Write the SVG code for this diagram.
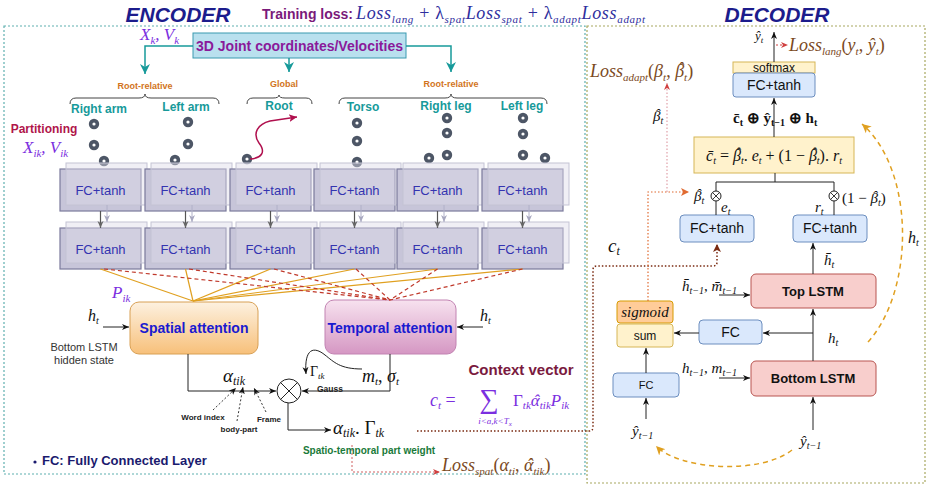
<svg xmlns="http://www.w3.org/2000/svg" width="940" height="486" viewBox="0 0 940 486">
<defs>
<style>
.sans{font-family:"Liberation Sans",Arial,sans-serif}
.b{font-weight:bold}
.m{font-family:"Liberation Serif","Times New Roman",serif;font-style:italic}
.mu{font-family:"Liberation Serif","Times New Roman",serif}
.fcf{fill:#c7c5d9;stroke:#7b7a9c;stroke-width:1.2}
.fck{fill:#dddce8;fill-opacity:0.45;stroke:#c4c3d4;stroke-width:1}
.fct{font-family:"Liberation Sans",Arial,sans-serif;font-size:13px;fill:#3434b0;text-anchor:middle}
.teal{fill:#179a9a;font-weight:bold;font-size:12px;text-anchor:middle}
.rr{fill:#d2741c;font-weight:bold;font-size:9px;text-anchor:middle}
.brace{fill:none;stroke:#444;stroke-width:1}
.ln{fill:none;stroke:#222;stroke-width:1}
.gl{fill:none;stroke:#555;stroke-width:1.2}
.org{stroke:#e0a020;stroke-width:1.2;fill:none}
.red{stroke:#c0392b;stroke-width:1.2;stroke-dasharray:4 3;fill:none}
.dblue{fill:#dae8fc;stroke:#6c8ebf;stroke-width:1}
.yel{fill:#fff2cc;stroke:#d6b656;stroke-width:1}
.pinkb{fill:#f8cecc;stroke:#b85450;stroke-width:1}
.dt{font-family:"Liberation Sans",Arial,sans-serif;font-size:14px;fill:#111;text-anchor:middle}
.brn{fill:#7b4a1e}
</style>
<linearGradient id="gSp" x1="0" y1="0" x2="0" y2="1"><stop offset="0" stop-color="#fdf1e0"/><stop offset="1" stop-color="#f7c07a"/></linearGradient>
<linearGradient id="gTp" x1="0" y1="0" x2="0" y2="1"><stop offset="0" stop-color="#f7e2ef"/><stop offset="1" stop-color="#d597c3"/></linearGradient>
<marker id="aK" markerWidth="8" markerHeight="8" refX="7" refY="4" orient="auto" markerUnits="userSpaceOnUse"><path d="M0,1 L7,4 L0,7 L2,4z" fill="#111"/></marker>
<marker id="aG" markerWidth="8" markerHeight="8" refX="7" refY="4" orient="auto" markerUnits="userSpaceOnUse"><path d="M0,1 L7,4 L0,7 L2,4z" fill="#666"/></marker>
<marker id="aL" markerWidth="8" markerHeight="8" refX="7" refY="4" orient="auto" markerUnits="userSpaceOnUse"><path d="M0,1 L7,4 L0,7 L2,4z" fill="#a8a8c0"/></marker>
<marker id="aT" markerWidth="12" markerHeight="12" refX="10" refY="6" orient="auto" markerUnits="userSpaceOnUse"><path d="M0,1 L10,6 L0,11 L3,6z" fill="#179a9a"/></marker>
<marker id="aR" markerWidth="10" markerHeight="10" refX="8" refY="5" orient="auto" markerUnits="userSpaceOnUse"><path d="M0,1 L8,5 L0,9 L2,5z" fill="#b0104e"/></marker>
<marker id="aP" markerWidth="8" markerHeight="8" refX="7" refY="4" orient="auto" markerUnits="userSpaceOnUse"><path d="M0,1 L7,4 L0,7 L2,4z" fill="#d04040"/></marker>
<marker id="aO" markerWidth="9" markerHeight="9" refX="8" refY="4.5" orient="auto" markerUnits="userSpaceOnUse"><path d="M0,0.5 L8,4.5 L0,8.5 L2,4.5z" fill="#e06a30"/></marker>
<marker id="aBr" markerWidth="9" markerHeight="9" refX="8" refY="4.5" orient="auto" markerUnits="userSpaceOnUse"><path d="M0,0.5 L8,4.5 L0,8.5 L2,4.5z" fill="#7a2a10"/></marker>
<marker id="aY" markerWidth="10" markerHeight="10" refX="9" refY="5" orient="auto" markerUnits="userSpaceOnUse"><path d="M0,0.5 L9,5 L0,9.5 L2.5,5z" fill="#e0a020"/></marker>
<symbol id="dot" viewBox="-6 -6 12 12" width="12" height="12" overflow="visible"><circle r="5.2" fill="#4d5666"/><circle r="1.6" fill="#fff"/></symbol>
</defs>

<!-- frames -->
<g id="frames">
<rect x="4" y="26" width="581" height="448" fill="none" stroke="#5fb0b0" stroke-width="1.2" stroke-dasharray="2 2"/>
<rect x="587" y="26" width="338" height="457" fill="none" stroke="#a8a860" stroke-width="1.2" stroke-dasharray="2 2"/>
</g>

<!-- titles -->
<g id="titles">
<text x="178" y="22" class="sans b" font-style="italic" font-size="21" fill="#1c1c8c" text-anchor="middle">ENCODER</text>
<text x="777" y="22" class="sans b" font-style="italic" font-size="21" fill="#1c1c8c" text-anchor="middle">DECODER</text>
<text x="262" y="19" class="sans b" font-size="14" fill="#7a1a7a">Training loss:</text>
<text x="356" y="19" class="m" font-size="18" fill="#2e2e9e" textLength="289" lengthAdjust="spacing">Loss<tspan font-size="11" dy="4">lang</tspan><tspan dy="-4" font-style="normal"> + λ</tspan><tspan font-size="11" dy="4">spat</tspan><tspan dy="-4">Loss</tspan><tspan font-size="11" dy="4">spat</tspan><tspan dy="-4" font-style="normal"> + λ</tspan><tspan font-size="11" dy="4">adapt</tspan><tspan dy="-4">Loss</tspan><tspan font-size="11" dy="4">adapt</tspan></text>
</g>

<!-- input box -->
<g id="input">
<rect x="193" y="33" width="213" height="25" fill="#b9e0ee" stroke="#3a9ab0" stroke-width="1"/>
<text x="299.5" y="51" class="sans b" font-size="14" fill="#8a1a9a" text-anchor="middle">3D Joint coordinates/Velocities</text>
<text x="140" y="40" class="m" font-size="17" fill="#7b2fe0">X<tspan font-size="11" dy="4">k</tspan><tspan dy="-4">, V</tspan><tspan font-size="11" dy="4">k</tspan></text>
</g>

<!-- part labels -->
<g id="parts" class="sans">
<text x="145" y="89" class="rr">Root-relative</text>
<text x="284" y="87" class="rr">Global</text>
<text x="451" y="87" class="rr">Root-relative</text>
<path class="brace" d="M70,104 Q70,98 76,98 L139,98 Q145,98 145,94 Q145,98 151,98 L213,98 Q219,98 219,104"/>
<path class="brace" d="M247,104 Q247,98 253,98 L273,98 Q279,98 279,95 Q279,98 285,98 L306,98 Q312,98 312,104"/>
<path class="brace" d="M339,104 Q339,98 345,98 L445,98 Q451,98 451,94 Q451,98 457,98 L541,98 Q547,98 547,104"/>
<text x="99" y="113" class="teal">Right arm</text>
<text x="186" y="111" class="teal">Left arm</text>
<text x="279" y="110" class="teal">Root</text>
<text x="363" y="111" class="teal">Torso</text>
<text x="446" y="110" class="teal">Right leg</text>
<text x="522" y="110" class="teal">Left leg</text>
<text x="44" y="133" class="b" font-size="12" fill="#b0154a" text-anchor="middle">Partitioning</text>
<text x="23" y="153" class="m" font-size="17" fill="#7b2fe0">X<tspan font-size="11" dy="4">ik</tspan><tspan dy="-4">, V</tspan><tspan font-size="11" dy="4">ik</tspan></text>
</g>

<!-- joints -->
<g id="joints">
<use href="#dot" x="88" y="118"/><use href="#dot" x="88" y="139"/><use href="#dot" x="98" y="155"/>
<use href="#dot" x="182" y="116"/><use href="#dot" x="182" y="138"/><use href="#dot" x="169" y="154"/>
<use href="#dot" x="241" y="153"/>
<use href="#dot" x="351" y="117"/><use href="#dot" x="351" y="135"/><use href="#dot" x="351" y="156"/>
<use href="#dot" x="441" y="112"/><use href="#dot" x="441" y="127"/><use href="#dot" x="423" y="152"/><use href="#dot" x="441" y="149"/>
<use href="#dot" x="517" y="112"/><use href="#dot" x="517" y="128"/><use href="#dot" x="517" y="149"/><use href="#dot" x="539" y="152"/>
<path d="M250,159 C262,158 266,152 259,143 C252,133 258,124 270,121 C282,119 290,118 297,117" fill="none" stroke="#b0104e" stroke-width="1.5" marker-end="url(#aR)"/>
</g>

<!-- encoder FC layers -->
<g id="fc-row1">
<rect class="fcf" x="60" y="169" width="81" height="42"/><rect class="fck" x="66" y="163" width="81" height="42"/><text class="fct" x="100.5" y="195">FC+tanh</text>
<rect class="fcf" x="145" y="169" width="81" height="42"/><rect class="fck" x="151" y="163" width="81" height="42"/><text class="fct" x="185.5" y="195">FC+tanh</text>
<rect class="fcf" x="230" y="169" width="81" height="42"/><rect class="fck" x="236" y="163" width="81" height="42"/><text class="fct" x="270.5" y="195">FC+tanh</text>
<rect class="fcf" x="314" y="169" width="81" height="42"/><rect class="fck" x="320" y="163" width="81" height="42"/><text class="fct" x="354.5" y="195">FC+tanh</text>
<rect class="fcf" x="397" y="169" width="81" height="42"/><rect class="fck" x="403" y="163" width="81" height="42"/><text class="fct" x="437.5" y="195">FC+tanh</text>
<rect class="fcf" x="482" y="169" width="81" height="42"/><rect class="fck" x="488" y="163" width="81" height="42"/><text class="fct" x="522.5" y="195">FC+tanh</text>
</g>
<g id="fc-row2">
<rect class="fcf" x="60" y="228" width="81" height="41"/><rect class="fck" x="66" y="222" width="81" height="41"/><text class="fct" x="100.5" y="254">FC+tanh</text>
<rect class="fcf" x="145" y="228" width="81" height="41"/><rect class="fck" x="151" y="222" width="81" height="41"/><text class="fct" x="185.5" y="254">FC+tanh</text>
<rect class="fcf" x="230" y="228" width="81" height="41"/><rect class="fck" x="236" y="222" width="81" height="41"/><text class="fct" x="270.5" y="254">FC+tanh</text>
<rect class="fcf" x="314" y="228" width="81" height="41"/><rect class="fck" x="320" y="222" width="81" height="41"/><text class="fct" x="354.5" y="254">FC+tanh</text>
<rect class="fcf" x="397" y="228" width="81" height="41"/><rect class="fck" x="403" y="222" width="81" height="41"/><text class="fct" x="437.5" y="254">FC+tanh</text>
<rect class="fcf" x="482" y="228" width="81" height="41"/><rect class="fck" x="488" y="222" width="81" height="41"/><text class="fct" x="522.5" y="254">FC+tanh</text>
</g>

<!-- attention nodes -->
<g id="spatial">
<rect x="130" y="302" width="128" height="52" rx="9" fill="url(#gSp)" stroke="#d8a055" stroke-width="1"/>
<text x="194" y="333" class="sans b" font-size="14" fill="#1a1ad0" text-anchor="middle">Spatial attention</text>
</g>
<g id="temporal">
<rect x="325" y="300" width="131" height="54" rx="9" fill="url(#gTp)" stroke="#c283b2" stroke-width="1"/>
<text x="390" y="333" class="sans b" font-size="14" fill="#1a1ad0" text-anchor="middle">Temporal attention</text>
</g>
<g id="mult">
<circle cx="289" cy="391" r="12" fill="#fff" stroke="#222" stroke-width="1"/>
<path d="M280.5,382.5 L297.5,399.5 M297.5,382.5 L280.5,399.5" stroke="#222" stroke-width="1"/>
</g>

<!-- decoder nodes -->
<g id="softmax"><rect class="yel" x="733" y="62" width="82" height="11"/><text x="774" y="71.5" class="sans" font-size="12" fill="#111" text-anchor="middle">softmax</text></g>
<g id="fc-out"><rect class="dblue" x="733" y="73" width="82" height="24" rx="3"/><text x="774" y="90" class="dt">FC+tanh</text></g>
<g id="cbar"><rect class="yel" x="694" y="137" width="160" height="36"/>
<text x="774" y="161" class="m" font-size="16" fill="#111" text-anchor="middle">c̄<tspan font-size="10" dy="3">t</tspan><tspan dy="-3" font-style="normal"> = </tspan>β<tspan dx="-6" dy="-2">ˆ</tspan><tspan font-size="10" dx="0.6" dy="5">t</tspan><tspan dy="-3" font-style="normal">. </tspan>e<tspan font-size="10" dy="3">t</tspan><tspan dy="-3" font-style="normal"> + (1 − </tspan>β<tspan dx="-6" dy="-2">ˆ</tspan><tspan font-size="10" dx="0.6" dy="5">t</tspan><tspan dy="-3" font-style="normal">). </tspan>r<tspan font-size="10" dy="3">t</tspan></text></g>
<g id="fc-e"><rect class="dblue" x="680" y="215" width="74" height="27" rx="4"/><text x="717" y="233" class="dt">FC+tanh</text></g>
<g id="fc-r"><rect class="dblue" x="793" y="215" width="74" height="27" rx="4"/><text x="830" y="233" class="dt">FC+tanh</text></g>
<g id="toplstm"><rect class="pinkb" x="751" y="274" width="125" height="34" rx="5"/><text x="813" y="296" class="sans b" font-size="13" fill="#111" text-anchor="middle">Top LSTM</text></g>
<g id="fc-mid"><rect class="dblue" x="699" y="320" width="63" height="24" rx="4"/><text x="730.5" y="337" class="dt">FC</text></g>
<g id="sigmoid"><rect x="617" y="301" width="56" height="22" rx="3" fill="#ffcc99" stroke="#d79b00" stroke-width="1"/><text x="645" y="317" class="m" font-size="15" fill="#111" text-anchor="middle">sigmoid</text></g>
<g id="sum"><rect class="yel" x="617" y="324" width="56" height="23" rx="3"/><text x="645" y="340" class="sans" font-size="12" fill="#111" text-anchor="middle">sum</text></g>
<g id="fc-in"><rect class="dblue" x="613" y="373" width="66" height="24" rx="4"/><text x="646" y="389" class="sans" font-size="11" fill="#111" text-anchor="middle">FC</text></g>
<g id="botlstm"><rect class="pinkb" x="751" y="361" width="125" height="35" rx="5"/><text x="813" y="383" class="sans b" font-size="13" fill="#111" text-anchor="middle">Bottom LSTM</text></g>

<!-- connectors -->
<g id="connectors">
<path d="M193,46 H145 V74" fill="none" stroke="#179a9a" stroke-width="1.5" marker-end="url(#aT)"/>
<path d="M289,58 V72" fill="none" stroke="#179a9a" stroke-width="1.5" marker-end="url(#aT)"/>
<path d="M406,46 H451 V72" fill="none" stroke="#179a9a" stroke-width="1.5" marker-end="url(#aT)"/>
<g class="gl" marker-end="url(#aG)">
<path d="M100.5,211 V228"/><path d="M185.5,211 V228"/><path d="M270.5,211 V228"/><path d="M354.5,211 V228"/><path d="M437.5,211 V228"/><path d="M522.5,211 V228"/>
</g>
<g fill="none" stroke="#b0b0c8" stroke-width="1" marker-end="url(#aL)">
<path d="M107,205 V222"/><path d="M192,205 V222"/><path d="M277,205 V222"/><path d="M361,205 V222"/><path d="M444,205 V222"/><path d="M529,205 V222"/>
</g>
<g class="org">
<path d="M100.5,269 L193,301"/><path d="M185.5,269 L193,301"/><path d="M270.5,269 L193,301"/><path d="M354.5,269 L193,301"/><path d="M437.5,269 L193,301"/><path d="M522.5,269 L193,301"/>
</g>
<g class="red">
<path d="M104,269 L390,300"/><path d="M189,269 L390,300"/><path d="M274,269 L390,300"/><path d="M356,269 L390,300"/><path d="M437.5,269 L390,300"/><path d="M522.5,269 L390,300"/>
</g>
<path class="ln" d="M103,327 H129" marker-end="url(#aK)"/>
<path class="ln" d="M483,327 H457" marker-end="url(#aK)"/>
<path class="ln" d="M188,354 V391 H276" marker-end="url(#aK)"/>
<path class="ln" d="M390,354 V391 H302" marker-end="url(#aK)"/>
<path class="ln" d="M362,369 C340,369 334,362 325,355 C314,346 304,348 306,374" marker-end="url(#aK)"/>
<path class="ln" d="M288,403 V430 H331" marker-end="url(#aK)"/>
<g fill="none" stroke="#222" stroke-width="0.9" stroke-dasharray="2 2" marker-end="url(#aK)">
<path d="M213,410 L236,388"/><path d="M237,421 L243,387"/><path d="M266,412 L254,388"/>
</g>
<path d="M352,445 V472 H440" fill="none" stroke="#d06060" stroke-width="1" stroke-dasharray="2 2" marker-end="url(#aP)"/>
<path d="M417,431 H589 Q593,431 593,427 V270 Q593,266 597,266 H713 Q717,266 717,262 V244" fill="none" stroke="#7a2a10" stroke-width="1.5" stroke-dasharray="1.5 2" marker-end="url(#aBr)"/>
<path class="ln" d="M774,62 V32" marker-end="url(#aK)" stroke="#444"/>
<path d="M776,45 H788" fill="none" stroke="#d04040" stroke-width="1" stroke-dasharray="2 2" marker-end="url(#aP)"/>
<path class="ln" d="M774,137 V98" marker-end="url(#aK)" stroke="#555"/>
<path class="ln" d="M775,173 V182 M716,191 V182 H834 V191 M716,201 V215 M834,201 V215"/>
<circle cx="716" cy="196" r="5" fill="#fff" stroke="#222" stroke-width="1"/>
<path d="M712.5,192.5 L719.5,199.5 M719.5,192.5 L712.5,199.5" stroke="#222" stroke-width="0.9"/>
<circle cx="834" cy="196" r="5" fill="#fff" stroke="#222" stroke-width="1"/>
<path d="M830.5,192.5 L837.5,199.5 M837.5,192.5 L830.5,199.5" stroke="#222" stroke-width="0.9"/>
<path class="ln" d="M813,274 V243" marker-end="url(#aK)"/>
<path class="ln" d="M813,361 V309" marker-end="url(#aK)"/>
<path class="ln" d="M813,333 H763" marker-end="url(#aK)"/>
<path class="ln" d="M699,333 H674" marker-end="url(#aK)" stroke="#555"/>
<path class="ln" d="M646,373 V348" marker-end="url(#aK)"/>
<path class="ln" d="M646,419 V398" marker-end="url(#aK)"/>
<path class="ln" d="M813,430 V397" marker-end="url(#aK)"/>
<path class="ln" d="M719,295 H750" marker-end="url(#aK)"/>
<path class="ln" d="M719,378 H750" marker-end="url(#aK)"/>
<path d="M648,301 V192 H689" fill="none" stroke="#e06a30" stroke-width="1.2" stroke-dasharray="1.5 2" marker-end="url(#aO)"/>
<path d="M667,192 V83" fill="none" stroke="#e0a0a8" stroke-width="1.2" stroke-dasharray="1.5 2" marker-end="url(#aP)"/>
<path d="M868,342 C915,290 915,170 862,124" fill="none" stroke="#e0a020" stroke-width="1.5" stroke-dasharray="5 4" marker-end="url(#aY)"/>
<path d="M792,450 C760,475 680,470 656,446" fill="none" stroke="#e0a020" stroke-width="1.5" stroke-dasharray="5 4" marker-end="url(#aY)"/>
</g>

<!-- encoder labels -->
<g id="enc-labels">
<text x="112" y="298" class="m" font-size="17" fill="#7b2fe0">P<tspan font-size="11" dy="4">ik</tspan></text>
<text x="88" y="321" class="m" font-size="16" fill="#111">h<tspan font-size="10" dy="3">t</tspan></text>
<text x="480" y="321" class="m" font-size="16" fill="#111">h<tspan font-size="10" dy="3">t</tspan></text>
<text x="84" y="351" class="sans" font-size="11" fill="#333" text-anchor="middle">Bottom LSTM</text>
<text x="84" y="364" class="sans" font-size="11" fill="#333" text-anchor="middle">hidden state</text>
<text x="223" y="382" class="m" font-size="19" fill="#111">α<tspan font-size="12" dy="3">tik</tspan></text>
<text x="203" y="420" class="sans b" font-size="8" fill="#222" text-anchor="middle">Word index</text>
<text x="239" y="432" class="sans b" font-size="8" fill="#222" text-anchor="middle">body-part</text>
<text x="269" y="422" class="sans b" font-size="8" fill="#222" text-anchor="middle">Frame</text>
<text x="310" y="376" class="mu" font-size="14" fill="#111">Γ<tspan class="m" font-size="9" dy="3">tk</tspan></text>
<text x="330" y="392" class="sans b" font-size="8.5" fill="#222" text-anchor="middle">Gauss</text>
<text x="362" y="382" class="m" font-size="18" fill="#111">m<tspan font-size="11" dy="3">t</tspan><tspan dy="-3" font-style="normal">, </tspan>σ<tspan font-size="11" dy="3">t</tspan></text>
<text x="333" y="434" class="m" font-size="19" fill="#111">α<tspan font-size="12" dy="3">tik</tspan><tspan dy="-3" font-style="normal">. Γ</tspan><tspan font-size="12" dy="3">tk</tspan></text>
<text x="369" y="454" class="sans b" font-size="10" fill="#1a7a3a" text-anchor="middle">Spatio-temporal part weight</text>
<text x="442" y="471" class="m brn" font-size="18">Loss<tspan font-size="11" dy="4">spat</tspan><tspan dy="-4" font-style="normal">(</tspan>α<tspan font-size="11" dy="4">ti</tspan><tspan dy="-4" font-style="normal">, </tspan>α<tspan dx="-6.7">ˆ</tspan><tspan font-size="11" dx="0.7" dy="4">tik</tspan><tspan dy="-4" font-style="normal">)</tspan></text>
<text x="521" y="375" class="sans b" font-size="15" fill="#7a1a3e" text-anchor="middle">Context vector</text>
<text x="430" y="406" class="m" font-size="18" fill="#7b2fe0">c<tspan font-size="11" dy="3">t</tspan><tspan dy="-3" font-style="normal"> = </tspan></text>
<text x="489" y="408" class="mu" font-size="27" fill="#7b2fe0" text-anchor="middle">∑</text>
<text x="495" y="424" class="m" font-size="9" fill="#7b2fe0" text-anchor="middle">i&lt;a,k&lt;T<tspan font-size="7" dy="2">x</tspan></text>
<text x="513" y="406" class="mu" font-size="17" fill="#7b2fe0">Γ<tspan class="m" font-size="11" dy="3">tk</tspan><tspan class="m" dy="-3">α</tspan><tspan class="m" dx="-6.3">ˆ</tspan><tspan class="m" font-size="11" dx="0.7" dy="3">tik</tspan><tspan class="m" dy="-3">P</tspan><tspan class="m" font-size="11" dy="3">ik</tspan></text>
<circle cx="35" cy="462" r="1.6" fill="#1a1a6e"/>
<text x="42" y="465" class="sans b" font-size="13" fill="#1a1a6e">FC: Fully Connected Layer</text>
</g>

<!-- decoder labels -->
<g id="dec-labels">
<text x="755" y="40" class="m" font-size="13" fill="#111">ŷ<tspan font-size="9" dy="3">t</tspan></text>
<text x="789" y="51" class="m brn" font-size="18">Loss<tspan font-size="11" dy="4">lang</tspan><tspan dy="-4" font-style="normal">(</tspan>y<tspan font-size="11" dy="4">t</tspan><tspan dy="-4" font-style="normal">, </tspan>ŷ<tspan font-size="11" dy="4">t</tspan><tspan dy="-4" font-style="normal">)</tspan></text>
<text x="590" y="77" class="m brn" font-size="18">Loss<tspan font-size="11" dy="4">adapt</tspan><tspan dy="-4" font-style="normal">(</tspan>β<tspan font-size="11" dy="4">t</tspan><tspan dy="-4" font-style="normal">, </tspan>β<tspan dx="-6.7" dy="-2">ˆ</tspan><tspan font-size="11" dx="0.7" dy="6">t</tspan><tspan dy="-4" font-style="normal">)</tspan></text>
<text x="653" y="121" class="m" font-size="15" fill="#111">β<tspan dx="-5.6" dy="-2">ˆ</tspan><tspan font-size="10" dx="0.6" dy="5">t</tspan></text>
<text x="733" y="123" class="mu b" font-size="15" fill="#111">c̄<tspan font-size="10" dy="3">t</tspan><tspan dy="-3"> ⊕ ŷ</tspan><tspan font-size="10" dy="3">t−1</tspan><tspan dy="-3"> ⊕ h</tspan><tspan font-size="10" dy="3">t</tspan></text>
<text x="694" y="201" class="m" font-size="15" fill="#111">β<tspan dx="-5.6" dy="-2">ˆ</tspan><tspan font-size="10" dx="0.6" dy="5">t</tspan></text>
<text x="721" y="212" class="m" font-size="15" fill="#111">e<tspan font-size="10" dy="3">t</tspan></text>
<text x="815" y="212" class="m" font-size="15" fill="#111">r<tspan font-size="10" dy="3">t</tspan></text>
<text x="842" y="203" class="mu" font-size="15" fill="#111">(1 − <tspan class="m">β</tspan><tspan class="m" dx="-5.6" dy="-2">ˆ</tspan><tspan class="m" font-size="10" dx="0.6" dy="5">t</tspan><tspan dy="-3">)</tspan></text>
<text x="608" y="252" class="m" font-size="19" fill="#111">c<tspan font-size="12" dy="3">t</tspan></text>
<text x="824" y="265" class="m" font-size="15" fill="#111">h̄<tspan font-size="10" dy="3">t</tspan></text>
<text x="908" y="243" class="m" font-size="16" fill="#111">h<tspan font-size="10" dy="3">t</tspan></text>
<text x="682" y="291" class="m" font-size="15" fill="#111">h̄<tspan font-size="10" dy="3">t−1</tspan><tspan dy="-3" font-style="normal">, </tspan>m̄<tspan font-size="10" dy="3">t−1</tspan></text>
<text x="828" y="343" class="m" font-size="15" fill="#111">h<tspan font-size="10" dy="3">t</tspan></text>
<text x="682" y="373" class="m" font-size="15" fill="#111">h<tspan font-size="10" dy="3">t−1</tspan><tspan dy="-3" font-style="normal">, </tspan>m<tspan font-size="10" dy="3">t−1</tspan></text>
<text x="632" y="436" class="m" font-size="15" fill="#111">ŷ<tspan font-size="10" dy="3">t−1</tspan></text>
<text x="800" y="446" class="m" font-size="15" fill="#111">ŷ<tspan font-size="10" dy="3">t−1</tspan></text>
</g>
</svg>
